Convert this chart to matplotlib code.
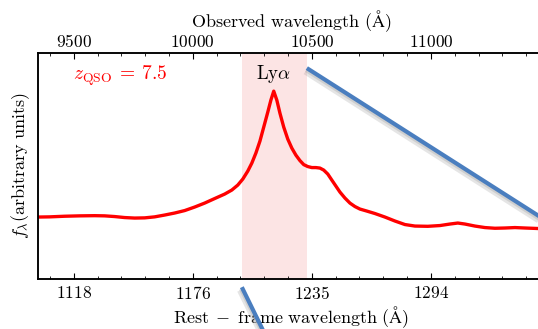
import numpy as np
import matplotlib
matplotlib.use("Agg")
import matplotlib.pyplot as plt
import matplotlib.patheffects as pe
from matplotlib.ticker import FixedLocator, FixedFormatter, MultipleLocator

plt.rcParams["mathtext.fontset"] = "cm"
plt.rcParams["font.family"] = "serif"
plt.rcParams["font.serif"] = ["cmr10", "DejaVu Serif"]

# Quasar redshift and composite spectrum (observed wavelength in Angstrom, flux arbitrary)
z_qso = 7.5
obs_wave = [9349, 9399, 9462, 9525, 9588, 9630, 9672, 9714, 9756, 9798,
            9840, 9882, 9924, 9966, 10008, 10050, 10092, 10134, 10164, 10189,
            10210, 10231, 10248, 10265, 10282, 10298, 10315, 10328, 10340, 10353,
            10366, 10382, 10399, 10416, 10433, 10450, 10466, 10483, 10500, 10517,
            10534, 10550, 10567, 10584, 10601, 10618, 10639, 10660, 10681, 10702,
            10731, 10765, 10807, 10849, 10891, 10933, 10987, 11038, 11080, 11113,
            11143, 11185, 11227, 11269, 11311, 11353, 11395, 11450, 11475]
flux = [0.984, 0.987, 0.997, 1.003, 1.006, 1.003, 0.992, 0.976, 0.968, 0.971,
        0.987, 1.016, 1.048, 1.087, 1.143, 1.206, 1.278, 1.349, 1.413, 1.492,
        1.587, 1.714, 1.841, 2.000, 2.190, 2.413, 2.651, 2.841, 2.984, 2.841,
        2.635, 2.413, 2.222, 2.079, 1.968, 1.881, 1.817, 1.786, 1.770, 1.770,
        1.762, 1.730, 1.667, 1.571, 1.476, 1.381, 1.286, 1.206, 1.151, 1.111,
        1.079, 1.040, 0.984, 0.921, 0.865, 0.841, 0.837, 0.849, 0.873, 0.889,
        0.873, 0.841, 0.817, 0.806, 0.810, 0.817, 0.810, 0.802, 0.800]

# Observed-frame tick positions; rest-frame labels follow from z_qso
obs_ticks = [9500, 10000, 10500, 11000]
rest_limits = [1100, 1350]
lya_window = [10206, 10479]

fig = plt.figure(figsize=(5.38, 3.29), dpi=100)
ax = fig.add_axes([38 / 538, 50 / 329, 506 / 538, 226 / 329])

ax.axvspan(lya_window[0], lya_window[1], color="#f47a7a", alpha=0.2, lw=0)
ax.plot(obs_wave, flux, color="red", lw=2.4, solid_joinstyle="round")

ax.set_xlim(rest_limits[0] * (1 + z_qso), rest_limits[1] * (1 + z_qso))
ax.set_ylim(0, 3.59)
ax.set_yticks([])

ax.xaxis.set_major_locator(FixedLocator(obs_ticks))
ax.xaxis.set_major_formatter(FixedFormatter(
    [r"$%d$" % round(w / (1 + z_qso)) for w in obs_ticks]))
ax.xaxis.set_minor_locator(MultipleLocator(100))

top = ax.twiny()
top.set_xlim(ax.get_xlim())
top.xaxis.set_major_locator(FixedLocator(obs_ticks))
top.xaxis.set_major_formatter(FixedFormatter([r"$%d$" % w for w in obs_ticks]))
top.xaxis.set_minor_locator(MultipleLocator(100))

for a in (ax, top):
    a.tick_params(axis="x", which="major", direction="in", length=4,
                  width=0.8, labelsize=12.5, pad=4)
    a.tick_params(axis="x", which="minor", direction="in", length=2, width=0.6)
    for s in a.spines.values():
        s.set_linewidth(1.1)
top.tick_params(axis="x", which="major", pad=2.5)

ax.set_xlabel(r"$\mathrm{Rest}\;-\;\mathrm{frame\ wavelength\ (\AA)}$",
              fontsize=13, labelpad=2)
top.set_xlabel(r"$\mathrm{Observed\ wavelength\ (\AA)}$", fontsize=13, labelpad=4)
ax.set_ylabel(r"$f_\lambda(\mathrm{arbitrary\ units})$", fontsize=13, labelpad=4)

ax.text(0.07, 0.9, r"$z_{\rm QSO}\:=\:%.1f$" % z_qso, transform=ax.transAxes,
        color="red", fontsize=14, va="center", ha="left")
ax.text(10340, 3.26, r"$\mathrm{Ly}\alpha$", color="black", fontsize=13.5,
        ha="center", va="center")

# Connector lines from the Ly-alpha window towards a zoomed panel (off canvas)
shadow = [pe.SimpleLineShadow(offset=(-0.8, -2.0), shadow_color="0.55",
                              alpha=0.22, linewidth=5.5),
          pe.SimpleLineShadow(offset=(-0.4, -1.2), shadow_color="0.55",
                              alpha=0.25, linewidth=3.5),
          pe.Normal()]
to_data = ax.transData.inverted()
for start, end_px in [((lya_window[1], 3.35), (600, 74)),
                      ((lya_window[0], -0.13), (280, -36))]:
    end = to_data.transform(end_px)
    ax.plot([start[0], end[0]], [start[1], end[1]], color="#4a7ebf", lw=3.0,
            clip_on=False, solid_capstyle="butt", path_effects=shadow, zorder=5)

fig.savefig("out.png", dpi=100)
